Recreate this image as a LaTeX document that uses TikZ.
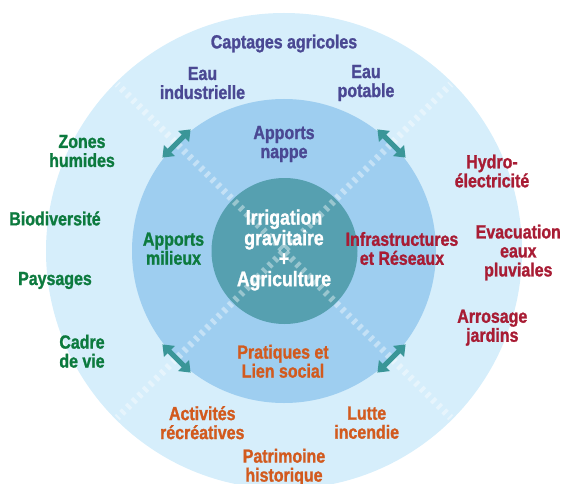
\documentclass[tikz,border=0pt]{standalone}
\usepackage{fontspec}
\setmainfont{Liberation Sans}
\newfontfamily\lblfont{Liberation Sans}[FakeStretch=0.84, BoldFeatures={FakeBold=1.2}]
\newfontfamily\ctrfont{Liberation Sans}[FakeStretch=0.84, BoldFeatures={FakeBold=1.2}]
\usetikzlibrary{arrows.meta}
\definecolor{outerc}{RGB}{214,238,251}
\definecolor{midc}{RGB}{158,206,240}
\definecolor{innerc}{RGB}{86,160,176}
\definecolor{arrc}{RGB}{58,150,152}
\definecolor{purp}{RGB}{74,72,147}
\definecolor{grn}{RGB}{12,122,62}
\definecolor{rd}{RGB}{168,28,52}
\definecolor{org}{RGB}{210,90,30}
\tikzset{
  lbl/.style={align=center, inner sep=0pt, font=\lblfont\bfseries\fontsize{19}{19}\selectfont},
  ctr/.style={align=center, inner sep=0pt, text=white, font=\ctrfont\bfseries\fontsize{21}{20.5}\selectfont},
  dashline/.style={draw=white, draw opacity=0.4, line width=7pt, dash pattern=on 3.5pt off 4.5pt},
  biarrow/.style={draw=arrc, line width=5pt, {Triangle[width=15pt,length=10pt]}-{Triangle[width=15pt,length=10pt]}}
}
\begin{document}
\begin{tikzpicture}[x=1pt,y=-1pt]
\useasboundingbox (0,0) rectangle (562,484);
\begin{scope}
\clip (0,0) rectangle (562,484);
\fill[outerc] (284,251) circle (238);
\fill[midc] (284,251) circle (152);
\fill[innerc] (284.5,251) circle (73);
\begin{scope}
\clip (284,251) circle (236);
\coordinate (d1a) at (115.7,82.7);
\coordinate (d1b) at (452.3,419.3);
\coordinate (d2a) at (452.3,82.7);
\coordinate (d2b) at (115.7,419.3);
\draw[dashline] (d1a) -- (d1b);
\draw[dashline] (d2a) -- (d2b);
\end{scope}
\end{scope}
% arrows
\coordinate (a1s) at (162.4,157.6); \coordinate (a1e) at (190.6,129.4);
\coordinate (a2s) at (377.4,129.4); \coordinate (a2e) at (405.6,157.6);
\coordinate (a3s) at (162.4,344.4); \coordinate (a3e) at (190.6,372.6);
\coordinate (a4s) at (377.4,372.6); \coordinate (a4e) at (405.6,344.4);
\draw[biarrow] (a1s) -- (a1e);
\draw[biarrow] (a2s) -- (a2e);
\draw[biarrow] (a3s) -- (a3e);
\draw[biarrow] (a4s) -- (a4e);
% labels
\node[lbl, text=purp] (capt) at (284,43.5) {Captages agricoles};
\node[lbl, text=purp] (eind) at (202.5,83) {Eau\\industrielle};
\node[lbl, text=purp] (epot) at (366,83) {Eau\\potable};
\node[lbl, text=purp] (nap) at (284,144) {Apports\\nappe};
\node[lbl, text=grn] (zon) at (82,151) {Zones\\humides};
\node[lbl, text=grn] (bio) at (55,218.5) {Biodiversité};
\node[lbl, text=grn] (pay) at (55,280.5) {Paysages};
\node[lbl, text=grn] (cad) at (82,351.3) {Cadre\\de vie};
\node[lbl, text=grn] (mil) at (173.5,248.7) {Apports\\milieux};
\node[lbl, text=rd] (infra) at (402,248.5) {Infrastructures\\et Réseaux};
\node[lbl, text=rd] (hyd) at (492,171) {Hydro-\\électricité};
\node[lbl, text=rd] (evac) at (518.3,252.5) {Evacuation\\eaux\\pluviales};
\node[lbl, text=rd] (arr) at (492.3,327.7) {Arrosage\\jardins};
\node[lbl, text=org] (prat) at (283,361.3) {Pratiques et\\Lien social};
\node[lbl, text=org] (act) at (202.3,422.7) {Activités\\récréatives};
\node[lbl, text=org] (lut) at (366.7,422.7) {Lutte\\incendie};
\node[lbl, text=org] (pat) at (284,467.2) {Patrimoine\\historique};
\node[ctr] (cen) at (284,250) {Irrigation\\gravitaire\\+\\Agriculture};
\end{tikzpicture}
\end{document}
